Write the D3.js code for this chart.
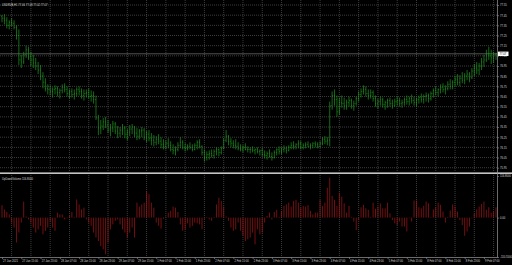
<!DOCTYPE html>
<html>
<head>
<meta charset="utf-8">
<script src="https://cdn.jsdelivr.net/npm/d3@7"></script>
<style>
  html, body { margin: 0; padding: 0; background: #000; }
  svg { display: block; }
  text { font-family: "Liberation Sans", Arial, sans-serif; }
</style>
</head>
<body>
<svg id="chart"></svg>
<script>
// chart texts
const symbolTitle = "USDRUB,H1  77.06 77.08 77.02 77.07";
const indicatorTitle = "UpDownVolume 116.8000";

// time axis labels, one every 8 bars
const timeLabels = [
  "27 Jan 2021", "27 Jan 15:00", "27 Jan 23:00", "28 Jan 07:00", "28 Jan 15:00", "28 Jan 23:00",
  "29 Jan 07:00", "29 Jan 15:00", "1 Feb 07:00", "1 Feb 15:00", "1 Feb 23:00", "2 Feb 07:00",
  "2 Feb 15:00", "2 Feb 23:00", "3 Feb 07:00", "3 Feb 15:00", "3 Feb 23:00", "4 Feb 07:00",
  "4 Feb 15:00", "4 Feb 23:00", "5 Feb 07:00", "5 Feb 15:00", "8 Feb 07:00", "8 Feb 15:00",
  "8 Feb 23:00", "9 Feb 07:00"
];

// price scale labels (top to bottom)
const priceTicks = [77.55, 77.45, 77.35, 77.25, 77.15, 77.05, 76.95, 76.85, 76.75,
  76.65, 76.55, 76.45, 76.35, 76.25, 76.15, 76.05, 75.95];
const lastPrice = 77.07;

// indicator scale labels
const indicatorTicks = [116.8, 0, -110.55];

// OHLC bars
const opens = [
  77.44,77.42,77.40,77.35,77.38,77.37,77.33,77.25,77.01,76.99,
  77.06,77.11,77.04,77.01,76.98,76.95,76.91,76.85,76.79,76.73,
  76.72,76.70,76.72,76.73,76.69,76.71,76.74,76.72,76.68,76.70,
  76.67,76.68,76.72,76.70,76.66,76.68,76.69,76.65,76.66,76.62,
  76.44,76.34,76.36,76.40,76.37,76.32,76.34,76.38,76.31,76.29,
  76.32,76.34,76.28,76.30,76.33,76.35,76.29,76.26,76.31,76.32,
  76.25,76.28,76.24,76.22,76.20,76.23,76.21,76.18,76.16,76.19,
  76.17,76.13,76.12,76.13,76.17,76.20,76.15,76.14,76.16,76.15,
  76.13,76.17,76.20,76.16,76.10,76.05,76.08,76.09,76.07,76.11,
  76.13,76.10,76.14,76.22,76.26,76.21,76.19,76.17,76.16,76.14,
  76.13,76.15,76.13,76.13,76.13,76.12,76.13,76.11,76.12,76.08,
  76.07,76.09,76.06,76.05,76.10,76.13,76.11,76.13,76.14,76.12,
  76.15,76.17,76.16,76.18,76.19,76.15,76.17,76.18,76.16,76.17,
  76.19,76.18,76.16,76.19,76.23,76.21,76.22,76.56,76.66,76.62,
  76.50,76.59,76.58,76.56,76.59,76.61,76.56,76.58,76.63,76.67,
  76.70,76.72,76.68,76.66,76.69,76.63,76.58,76.60,76.62,76.57,
  76.59,76.61,76.58,76.56,76.60,76.61,76.58,76.59,76.62,76.60,
  76.63,76.61,76.59,76.62,76.64,76.62,76.65,76.66,76.63,76.68,
  76.71,76.69,76.72,76.74,76.72,76.73,76.77,76.75,76.79,76.82,
  76.79,76.83,76.81,76.85,76.87,76.84,76.90,76.93,76.91,76.95,
  76.99,77.01,77.07,77.05,77.03,77.06
];
const highs = [
  77.45,77.46,77.43,77.40,77.42,77.40,77.35,77.31,77.06,77.09,
  77.15,77.14,77.09,77.06,77.03,76.99,76.96,76.89,76.83,76.77,
  76.76,76.74,76.76,76.75,76.73,76.77,76.78,76.75,76.72,76.73,
  76.72,76.74,76.75,76.73,76.72,76.72,76.73,76.71,76.70,76.66,
  76.47,76.42,76.44,76.45,76.42,76.38,76.41,76.40,76.36,76.35,
  76.38,76.36,76.33,76.37,76.38,76.36,76.34,76.33,76.35,76.34,
  76.31,76.32,76.29,76.27,76.26,76.28,76.25,76.23,76.22,76.24,
  76.21,76.18,76.16,76.20,76.25,76.22,76.19,76.18,76.20,76.18,
  76.19,76.22,76.23,76.17,76.13,76.11,76.12,76.13,76.13,76.15,
  76.14,76.16,76.24,76.32,76.27,76.24,76.22,76.23,76.20,76.18,
  76.17,76.19,76.16,76.15,76.16,76.14,76.15,76.13,76.14,76.12,
  76.11,76.13,76.10,76.12,76.14,76.16,76.15,76.17,76.16,76.17,
  76.20,76.21,76.19,76.22,76.21,76.19,76.20,76.21,76.19,76.20,
  76.21,76.20,76.21,76.25,76.26,76.25,76.60,76.70,76.72,76.66,
  76.64,76.66,76.64,76.62,76.65,76.63,76.61,76.65,76.70,76.73,
  76.76,76.75,76.72,76.72,76.71,76.66,76.63,76.65,76.64,76.61,
  76.63,76.64,76.62,76.63,76.65,76.64,76.62,76.64,76.66,76.65,
  76.67,76.65,76.64,76.66,76.68,76.67,76.69,76.68,76.70,76.73,
  76.75,76.73,76.77,76.78,76.76,76.80,76.82,76.81,76.85,76.87,
  76.86,76.89,76.88,76.91,76.89,76.93,76.97,76.99,76.98,77.03,
  77.06,77.11,77.14,77.11,77.09,77.08
];
const lows = [
  77.38,77.36,77.32,77.31,77.34,77.31,77.21,76.96,76.93,76.97,
  77.03,77.01,76.95,76.93,76.91,76.87,76.81,76.73,76.70,76.67,
  76.66,76.64,76.67,76.65,76.63,76.68,76.69,76.65,76.63,76.64,
  76.62,76.65,76.66,76.63,76.61,76.64,76.63,76.60,76.58,76.42,
  76.27,76.28,76.32,76.34,76.29,76.26,76.30,76.28,76.24,76.25,
  76.27,76.24,76.22,76.26,76.28,76.25,76.22,76.23,76.25,76.22,
  76.20,76.21,76.17,76.16,76.17,76.18,76.14,76.13,76.13,76.14,
  76.11,76.08,76.07,76.11,76.14,76.13,76.11,76.12,76.13,76.11,
  76.12,76.13,76.14,76.07,76.01,76.02,76.03,76.05,76.04,76.07,
  76.06,76.08,76.13,76.20,76.17,76.15,76.14,76.13,76.12,76.11,
  76.10,76.12,76.10,76.09,76.10,76.08,76.09,76.07,76.06,76.04,
  76.03,76.05,76.02,76.04,76.07,76.08,76.08,76.10,76.09,76.11,
  76.13,76.13,76.13,76.14,76.13,76.13,76.14,76.15,76.13,76.14,
  76.15,76.14,76.15,76.17,76.18,76.17,76.16,76.52,76.56,76.45,
  76.47,76.54,76.52,76.52,76.55,76.53,76.51,76.56,76.60,76.64,
  76.67,76.65,76.62,76.63,76.60,76.55,76.53,76.56,76.54,76.52,
  76.54,76.55,76.53,76.55,76.56,76.55,76.54,76.56,76.57,76.56,
  76.58,76.56,76.55,76.58,76.59,76.58,76.60,76.59,76.61,76.64,
  76.66,76.65,76.68,76.69,76.67,76.71,76.72,76.72,76.75,76.76,
  76.75,76.78,76.77,76.81,76.79,76.82,76.85,76.87,76.86,76.91,
  76.94,76.99,77.01,76.97,76.98,77.01
];
const closes = [
  77.42,77.40,77.35,77.38,77.37,77.33,77.25,77.01,76.99,77.06,
  77.11,77.04,77.01,76.98,76.95,76.91,76.85,76.79,76.73,76.72,
  76.70,76.72,76.73,76.69,76.71,76.74,76.72,76.68,76.70,76.67,
  76.68,76.72,76.70,76.66,76.68,76.69,76.65,76.66,76.62,76.44,
  76.34,76.36,76.40,76.37,76.32,76.34,76.38,76.31,76.29,76.32,
  76.34,76.28,76.30,76.33,76.35,76.29,76.26,76.31,76.32,76.25,
  76.28,76.24,76.22,76.20,76.23,76.21,76.18,76.16,76.19,76.17,
  76.13,76.12,76.13,76.17,76.20,76.15,76.14,76.16,76.15,76.13,
  76.17,76.20,76.16,76.10,76.05,76.08,76.09,76.07,76.11,76.13,
  76.10,76.14,76.22,76.26,76.21,76.19,76.17,76.16,76.14,76.13,
  76.15,76.13,76.13,76.13,76.12,76.13,76.11,76.12,76.08,76.07,
  76.09,76.06,76.05,76.10,76.13,76.11,76.13,76.14,76.12,76.15,
  76.17,76.16,76.18,76.19,76.15,76.17,76.18,76.16,76.17,76.19,
  76.18,76.16,76.19,76.23,76.21,76.22,76.56,76.66,76.62,76.50,
  76.59,76.58,76.56,76.59,76.61,76.56,76.58,76.63,76.67,76.70,
  76.72,76.68,76.66,76.69,76.63,76.58,76.60,76.62,76.57,76.59,
  76.61,76.58,76.56,76.60,76.61,76.58,76.59,76.62,76.60,76.63,
  76.61,76.59,76.62,76.64,76.62,76.65,76.66,76.63,76.68,76.71,
  76.69,76.72,76.74,76.72,76.73,76.77,76.75,76.79,76.82,76.79,
  76.83,76.81,76.85,76.87,76.84,76.90,76.93,76.91,76.95,76.99,
  77.01,77.07,77.05,77.03,77.06,77.07
];

// indicator histogram
const histValues = [
  35,23,16,9,-14,-28,-70,-42,-14,45,
  3,-5,-14,-28,-42,-33,-23,-47,-37,-28,
  -12,-28,-37,14,9,9,-5,-2,5,16,
  2,51,37,23,28,-5,-14,-23,-42,-56,
  -66,-80,-89,-103,-70,-33,-19,-9,-5,-19,
  -33,-42,-56,-42,-28,-56,42,31,37,42,
  75,66,42,28,-14,-23,-31,-3,3,14,
  19,31,28,16,-19,-37,-33,-16,-28,-23,
  -14,-16,-19,-33,-3,2,-5,-9,2,37,
  56,47,31,3,-9,-28,-37,-33,-14,-37,
  -51,-66,-61,-56,-42,-75,-33,-47,-42,-14,
  5,14,-5,16,22,2,19,33,37,42,
  31,47,50,42,28,33,31,35,19,9,
  14,14,50,33,42,84,112,61,50,33,
  70,59,40,14,33,2,-11,-35,-7,29,
  36,26,22,2,42,25,31,40,26,26,
  42,12,-7,-16,-21,-11,-25,-25,-39,-2,
  -11,48,48,29,26,33,45,40,2,23,
  29,42,36,17,-14,2,20,37,31,17,
  -7,-21,-51,-39,-25,-2,12,23,31,38,
  45,22,29,14,17,29
];

const width = 512, height = 265;
const plotRight = 497;    // right edge of the plot, price scale beyond
const fontSize = 2.7;
const gridColor = "#656565";
const textColor = "#d8d8d8";

const svg = d3.select("#chart")
  .attr("width", width)
  .attr("height", height);

svg.append("rect")
  .attr("width", width)
  .attr("height", height)
  .attr("fill", "#000");

const n = closes.length;
const x = d3.scaleLinear()
  .domain([0, n - 1])
  .range([2, 496]);

const y = d3.scaleLinear()
  .domain([priceTicks[priceTicks.length - 1], priceTicks[0]])
  .range([167.7, 5]);

const yInd = d3.scaleLinear()
  .domain([indicatorTicks[2], indicatorTicks[0]])
  .range([257, 176]);

// dotted grid
const grid = svg.append("g")
  .attr("stroke", gridColor)
  .attr("stroke-width", 0.6)
  .attr("stroke-dasharray", "1,1");

grid.selectAll("line.h")
  .data(priceTicks)
  .join("line")
  .attr("class", "h")
  .attr("x1", 0)
  .attr("x2", plotRight)
  .attr("y1", d => y(d))
  .attr("y2", d => y(d));

const vIdx = d3.range(4, n, 8);
grid.selectAll("line.v1")
  .data(vIdx)
  .join("line")
  .attr("class", "v1")
  .attr("x1", d => x(d))
  .attr("x2", d => x(d))
  .attr("y1", 0)
  .attr("y2", 172);

grid.selectAll("line.v2")
  .data(vIdx)
  .join("line")
  .attr("class", "v2")
  .attr("x1", d => x(d))
  .attr("x2", d => x(d))
  .attr("y1", 175)
  .attr("y2", 257);

// bid line
svg.append("line")
  .attr("x1", 0)
  .attr("x2", plotRight)
  .attr("y1", y(lastPrice))
  .attr("y2", y(lastPrice))
  .attr("stroke", "#8c8c8c")
  .attr("stroke-width", 0.6);

// OHLC bars
const bars = svg.append("g")
  .attr("stroke", "#22a022")
  .attr("stroke-width", 0.65);

bars.selectAll("line.hl")
  .data(d3.range(n))
  .join("line")
  .attr("class", "hl")
  .attr("x1", i => x(i))
  .attr("x2", i => x(i))
  .attr("y1", i => y(highs[i]))
  .attr("y2", i => y(lows[i]));

bars.selectAll("line.o")
  .data(d3.range(n))
  .join("line")
  .attr("class", "o")
  .attr("x1", i => x(i) - 0.7)
  .attr("x2", i => x(i))
  .attr("y1", i => y(opens[i]))
  .attr("y2", i => y(opens[i]));

bars.selectAll("line.c")
  .data(d3.range(n))
  .join("line")
  .attr("class", "c")
  .attr("x1", i => x(i))
  .attr("x2", i => x(i) + 0.7)
  .attr("y1", i => y(closes[i]))
  .attr("y2", i => y(closes[i]));

// histogram
svg.append("g")
  .attr("stroke", "#981616")
  .attr("stroke-width", 0.75)
  .selectAll("line")
  .data(histValues)
  .join("line")
  .attr("x1", (d, i) => x(i))
  .attr("x2", (d, i) => x(i))
  .attr("y1", yInd(0))
  .attr("y2", d => yInd(d));

// window separator and frame
svg.append("rect")
  .attr("x", 0)
  .attr("y", 172.4)
  .attr("width", width)
  .attr("height", 1.6)
  .attr("fill", "#c4c4c4");

svg.append("line")
  .attr("x1", plotRight + 0.5)
  .attr("x2", plotRight + 0.5)
  .attr("y1", 0)
  .attr("y2", 258)
  .attr("stroke", "#9a9a9a")
  .attr("stroke-width", 0.7);

// axis styling helper
function styleAxis(g) {
  g.attr("font-size", fontSize)
    .attr("font-family", "Liberation Sans, Arial, sans-serif");
  g.select(".domain").attr("stroke", "#9a9a9a").attr("stroke-width", 0.7);
  g.selectAll(".tick line").attr("stroke", "#9a9a9a").attr("stroke-width", 0.6);
  g.selectAll(".tick text").attr("fill", textColor);
}

// price scale
svg.append("g")
  .attr("transform", "translate(" + (plotRight + 0.5) + ",0)")
  .call(d3.axisRight(y).tickValues(priceTicks).tickSize(1.5).tickPadding(1).tickFormat(d3.format(".2f")))
  .call(styleAxis)
  .call(g => g.select(".domain").remove());

// indicator scale
svg.append("g")
  .attr("transform", "translate(" + (plotRight + 0.5) + ",0)")
  .call(d3.axisRight(yInd).tickValues(indicatorTicks).tickSize(1.5).tickPadding(1)
    .tickFormat(d => d === 0 ? "0.00" : d.toFixed(4)))
  .call(styleAxis)
  .call(g => g.select(".domain").remove());

// time scale
svg.append("g")
  .attr("transform", "translate(0,257.5)")
  .call(d3.axisBottom(x).tickValues(d3.range(0, n, 8)).tickSize(1.6).tickPadding(0.6)
    .tickFormat((d, i) => timeLabels[i]))
  .call(styleAxis)
  .call(g => g.select(".domain").attr("d", "M0,0H" + plotRight))
  .call(g => g.selectAll(".tick text").attr("text-anchor", "start").attr("x", 0.6));

// current price marker
const lastY = y(lastPrice);
svg.append("rect")
  .attr("x", plotRight + 1)
  .attr("y", lastY - 2.2)
  .attr("width", 10.5)
  .attr("height", 4.4)
  .attr("fill", "#ffffff");

svg.append("text")
  .attr("x", plotRight + 2.5)
  .attr("y", lastY)
  .attr("dy", "0.35em")
  .attr("font-size", fontSize)
  .attr("fill", "#000")
  .text(lastPrice.toFixed(2));

// window titles
svg.append("text")
  .attr("x", 2)
  .attr("y", 6)
  .attr("font-size", fontSize)
  .attr("fill", textColor)
  .text(symbolTitle);

svg.append("text")
  .attr("x", 2)
  .attr("y", 179.5)
  .attr("font-size", fontSize)
  .attr("fill", textColor)
  .text(indicatorTitle);
</script>
</body>
</html>
